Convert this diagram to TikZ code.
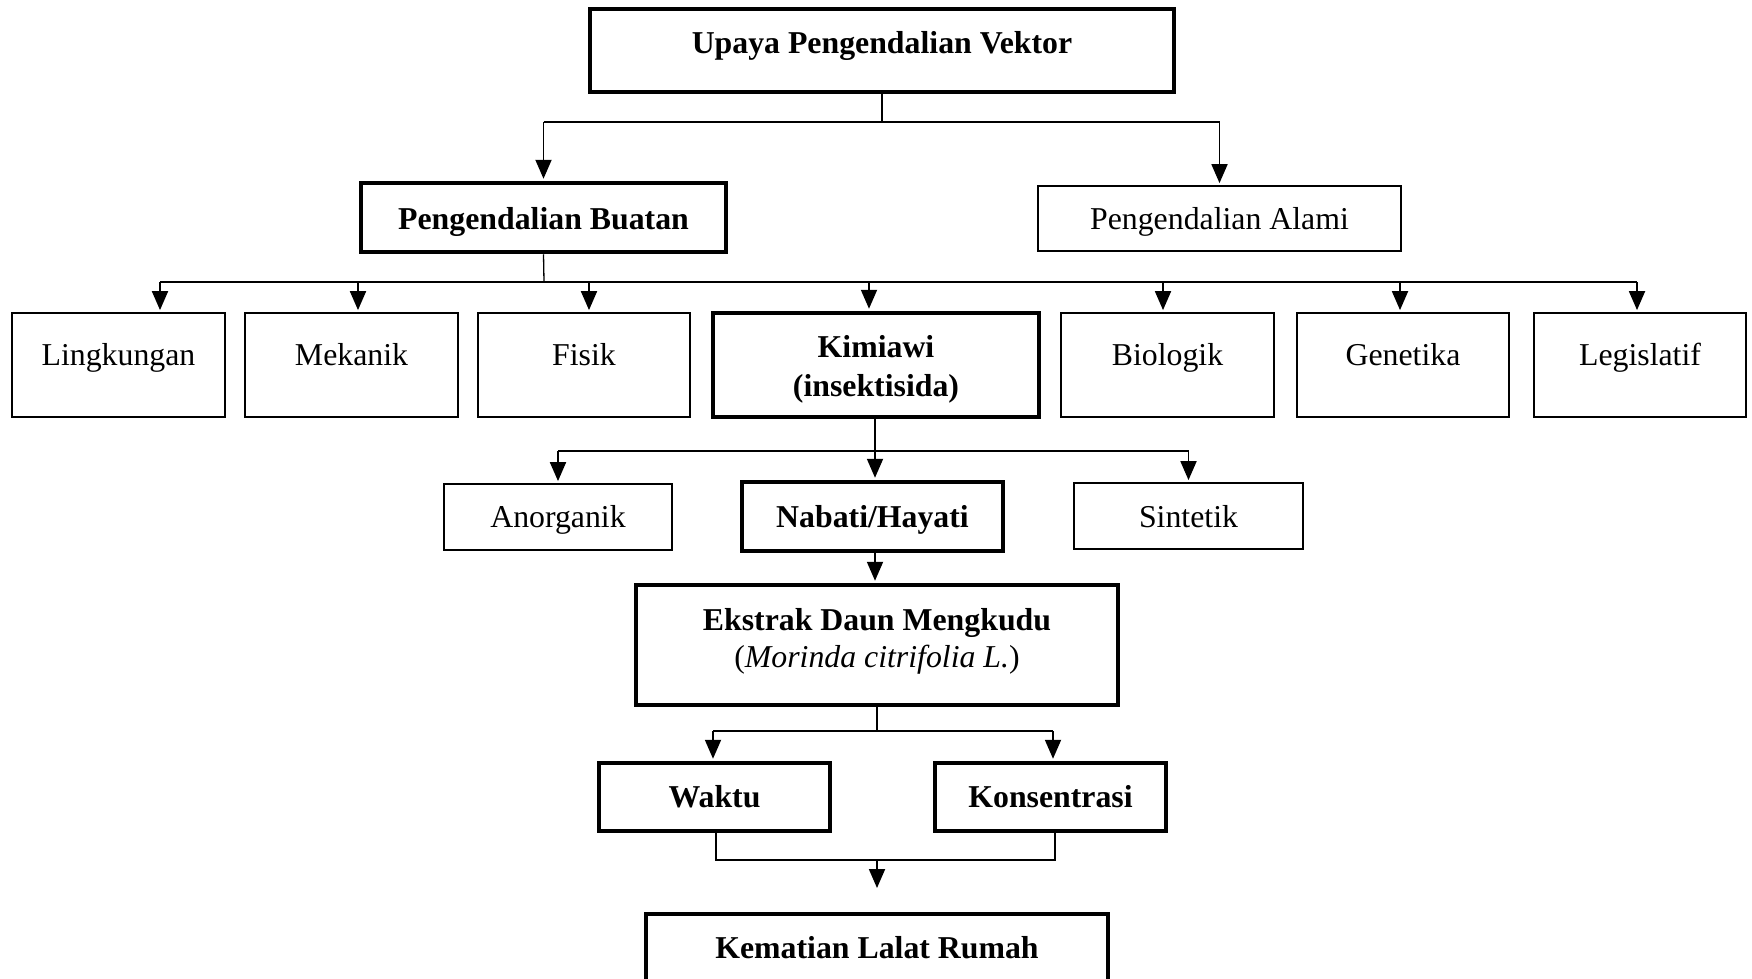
\documentclass[tikz,border=0pt]{standalone}
\usepackage{fontspec}
\setmainfont{Liberation Serif}
\usetikzlibrary{arrows.meta}
\begin{document}
\begin{tikzpicture}[x=1pt,y=-1pt,
  box/.style={draw=black, line width=1.8pt, minimum width=#1, inner sep=0pt},
  thickbox/.style={draw=black, line width=4.5pt, minimum width=#1, inner sep=0pt},
  txt/.style={anchor=base, inner sep=0pt, font=\fontsize{31.8}{38}\selectfont},
  btxt/.style={anchor=base, inner sep=0pt, font=\fontsize{31.8}{38}\selectfont\bfseries},
  line/.style={draw=black, line width=1.3pt},
  arr/.style={draw=black, line width=1.9pt, shorten >=2pt, -{Triangle[length=19pt,width=16pt]}}]
\useasboundingbox (0,0) rectangle (1752,978);
\clip (0,0) rectangle (1752,978);
% top
\node[thickbox=584, minimum height=83] (top) at (882,50.5) {};
\node[btxt] (ttop) at (882,53.5) {Upaya Pengendalian Vektor};
% level 2
\node[thickbox=365, minimum height=69] (buatan) at (543.5,217.5) {};
\node[btxt] (tbuatan) at (543.5,229) {Pengendalian Buatan};
\node[box=363, minimum height=65] (alami) at (1219.5,218.5) {};
\node[txt] (talami) at (1219.5,229) {Pengendalian Alami};
\coordinate (j1) at (882,122);
\draw[line] (top.south) -- (j1);
\draw[line] (buatan.north |- j1) -- (alami.north |- j1);
\draw[arr] (buatan.north |- j1) -- (buatan.north);
\draw[arr] (alami.north |- j1) -- (alami.north);
% level 3
\node[box=213, minimum height=104] (ling) at (118.5,365) {};
\node[txt] (tling) at (118.5,365.5) {Lingkungan};
\node[box=213, minimum height=104] (mek) at (351.5,365) {};
\node[txt] (tmek) at (351.5,365.5) {Mekanik};
\node[box=212, minimum height=104] (fis) at (584,365) {};
\node[txt] (tfis) at (584,365.5) {Fisik};
\node[thickbox=326, minimum height=104] (kim) at (876,365) {};
\node[btxt] (tkim1) at (876,357.5) {Kimiawi};
\node[btxt] (tkim2) at (876,396) {(insektisida)};
\node[box=213, minimum height=104] (bio) at (1167.5,365) {};
\node[txt] (tbio) at (1167.5,365.5) {Biologik};
\node[box=212, minimum height=104] (gen) at (1403,365) {};
\node[txt] (tgen) at (1403,365.5) {Genetika};
\node[box=212, minimum height=104] (leg) at (1640,365) {};
\node[txt] (tleg) at (1640,365.5) {Legislatif};
\coordinate (j2) at (544,282);
\draw[line] (buatan.south) -- (j2);
\draw[line] ([xshift=41.5]ling.north |- j2) -- ([xshift=-3]leg.north |- j2);
\draw[arr] ([xshift=41.5]ling.north |- j2) -- ([xshift=41.5]ling.north);
\draw[arr] ([xshift=6.5]mek.north |- j2) -- ([xshift=6.5]mek.north);
\draw[arr] ([xshift=5]fis.north |- j2) -- ([xshift=5]fis.north);
\draw[arr] ([xshift=-7]kim.north |- j2) -- ([xshift=-7]kim.north);
\draw[arr] ([xshift=-4.5]bio.north |- j2) -- ([xshift=-4.5]bio.north);
\draw[arr] ([xshift=-3]gen.north |- j2) -- ([xshift=-3]gen.north);
\draw[arr] ([xshift=-3]leg.north |- j2) -- ([xshift=-3]leg.north);
% level 4
\node[box=228, minimum height=66] (ano) at (558,517) {};
\node[txt] (tano) at (558,527.5) {Anorganik};
\node[thickbox=261, minimum height=69] (nab) at (872.5,516.5) {};
\node[btxt] (tnab) at (872.5,527.5) {Nabati/Hayati};
\node[box=229, minimum height=66] (sin) at (1188.5,516) {};
\node[txt] (tsin) at (1188.5,527.5) {Sintetik};
\coordinate (j3) at (875,451);
\draw[line] (kim.south -| j3) -- (j3);
\draw[line] (ano.north |- j3) -- (sin.north |- j3);
\draw[arr] (ano.north |- j3) -- (ano.north);
\draw[arr] (j3) -- (j3 |- nab.north);
\draw[arr] (sin.north |- j3) -- (sin.north);
% level 5
\node[thickbox=482, minimum height=120] (ekst) at (877,645) {};
\node[btxt] (tekst1) at (877,630.5) {Ekstrak Daun Mengkudu};
\node[txt] (tekst2) at (877,667) {(\textit{Morinda citrifolia L.})};
\draw[arr] (nab.south -| j3) -- (j3 |- ekst.north);
% level 6
\node[thickbox=231, minimum height=68] (wak) at (714.5,797) {};
\node[btxt] (twak) at (714.5,807.5) {Waktu};
\node[thickbox=231, minimum height=68] (kon) at (1050.5,797) {};
\node[btxt] (tkon) at (1050.5,807.5) {Konsentrasi};
\coordinate (j4) at (877,731);
\draw[line] (ekst.south) -- (j4);
\draw[line] ([xshift=-1.5]wak.north |- j4) -- ([xshift=2.5]kon.north |- j4);
\draw[arr] ([xshift=-1.5]wak.north |- j4) -- ([xshift=-1.5]wak.north);
\draw[arr] ([xshift=2.5]kon.north |- j4) -- ([xshift=2.5]kon.north);
% level 7
\node[thickbox=462, minimum height=80] (kem) at (877,954) {};
\node[btxt] (tkem) at (877,958.5) {Kematian Lalat Rumah};
\coordinate (j5) at (877,860);
\draw[line] ([xshift=1.5]wak.south) -- ([xshift=1.5]wak.south |- j5) -- ([xshift=4.5]kon.south |- j5) -- ([xshift=4.5]kon.south);
\draw[arr, shorten >=0pt] (j5) -- (j5 |- 0,888);
\end{tikzpicture}
\end{document}
